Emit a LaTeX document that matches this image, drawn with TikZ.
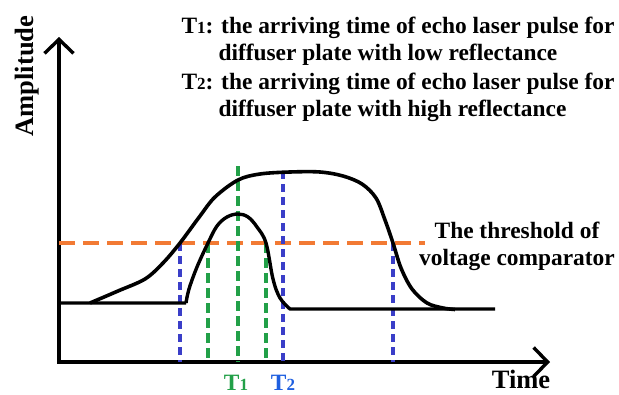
\documentclass[tikz,border=0pt]{standalone}
\usepackage{fontspec}
\setmainfont{Liberation Serif}
\usetikzlibrary{arrows.meta}
\definecolor{threshorange}{RGB}{242,122,52}
\definecolor{edgeblue}{RGB}{58,62,200}
\definecolor{peakgreen}{RGB}{34,160,72}
\definecolor{labelblue}{RGB}{30,95,224}
\newcommand{\bigtxt}{\fontsize{23.4}{27}\selectfont\bfseries}
\newcommand{\axtxt}{\fontsize{26.5}{30}\selectfont\bfseries}
\newcommand{\dig}[1]{{\fontsize{17}{20}\selectfont #1}}
\newcommand{\marker}[4]{%
  \draw[#1, line width=3.2pt, dash pattern=on #2pt off 5pt] (#3,#4) -- (#3,362);}

\begin{document}
\begin{tikzpicture}[x=1pt, y=-1pt, line cap=butt]
  \useasboundingbox (0,0) rectangle (619,394);
  % axes
  \draw[line width=3.4pt, {Straight Barb[length=14pt, width=29pt]}-{Straight Barb[length=14pt, width=29pt]}]
       (59,37) |- (550,362);
  \node[rotate=90, font=\axtxt] (amp) at (27,76) {Amplitude};
  \node[anchor=base, font=\axtxt, inner sep=0.5pt] (time) at (521,388) {Time};
  % threshold
  \draw[threshorange, line width=3.4pt, dash pattern=on 16pt off 8pt] (59,243) -- (425,243);
  \node[align=center, font=\bigtxt] (thr) at (517,246) {The threshold of\\voltage comparator};
  % markers
  \marker{edgeblue}{8}{180}{243}
  \marker{edgeblue}{8}{283}{171}
  \marker{edgeblue}{8}{393}{243}
  \marker{peakgreen}{10}{208}{243}
  \marker{peakgreen}{10}{238}{166}
  \marker{peakgreen}{10}{266}{243}
  % pulses
  \draw[line width=3.4pt, line join=round] (59,303) -- (186,303)
       plot[smooth, tension=0.6] coordinates {(186,303) (189,289) (197,267) (208,243) (217,226)
         (227,217) (238,214) (248,217) (257,227) (266,243) (273,279) (280,298) (290,309)}
       -- (495,309);
  \draw[line width=3.6pt] plot[smooth, tension=0.55] coordinates {(90,303) (118,291) (145,279)
       (163,263) (180,243) (200,216) (215,197) (238,180) (260,174) (290,172) (320,172)
       (343,176) (362,184) (376,198) (385,220) (393,243) (401,268) (412,289) (427,303)
       (443,308) (455,309.5)};
  % labels
  \node[anchor=base, text=peakgreen, font=\bigtxt, inner sep=1pt] (t1) at (236,390) {T\dig{1}};
  \node[anchor=base, text=labelblue, font=\bigtxt, inner sep=1pt] (t2) at (283,390) {T\dig{2}};
  \node[anchor=west, font=\bigtxt] (d1) at (178,28) {T\dig{1}: the arriving time of echo laser pulse for};
  \node[anchor=west, font=\bigtxt] (d2) at (215,55) {diffuser plate with low reflectance};
  \node[anchor=west, font=\bigtxt] (d3) at (178,84) {T\dig{2}: the arriving time of echo laser pulse for};
  \node[anchor=west, font=\bigtxt] (d4) at (215,111) {diffuser plate with high reflectance};
\end{tikzpicture}
\end{document}
